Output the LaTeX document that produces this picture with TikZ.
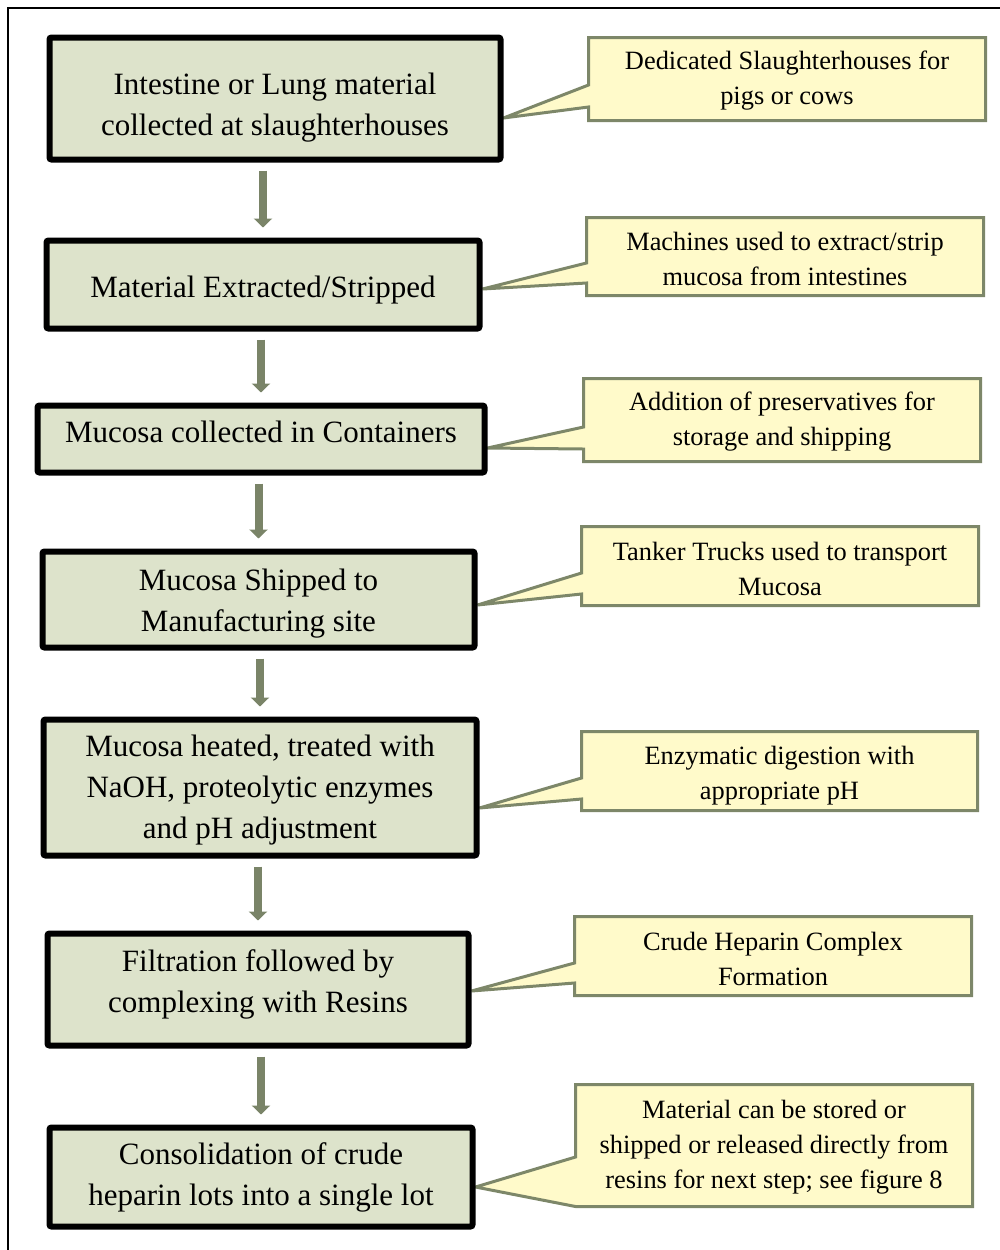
\documentclass[tikz,border=0pt]{standalone}
\usepackage{fontspec}
\setmainfont{Liberation Serif}
\usetikzlibrary{arrows.meta,backgrounds}

\definecolor{boxfill}{RGB}{221,227,203}
\definecolor{flowc}{RGB}{122,132,104}
\definecolor{notefill}{RGB}{255,250,202}
\definecolor{noteedge}{RGB}{125,135,105}

\tikzset{
  stepbox/.style={draw=black, line width=3pt, fill=boxfill, rounded corners=1pt,
    inner sep=0pt},
  steptext/.style={inner sep=0pt, align=center, font=\fontsize{15.5}{20.5}\selectfont},
  notebox/.style={inner sep=0pt, outer sep=0pt},
  notetext/.style={inner sep=0pt, align=center, font=\fontsize{13.2}{17.5}\selectfont},
  noteshape/.style={draw=noteedge, fill=notefill, line width=1.5pt, line join=miter},
  flow/.style={draw=flowc, line width=4pt, shorten <=4pt, shorten >=5pt,
    -{Triangle[length=4.5pt,width=9pt]}},
}

\begin{document}
\begin{tikzpicture}[x=0.5pt,y=-0.5pt]
\useasboundingbox (0,0) rectangle (1000,1250);
\clip (0,0) rectangle (1000,1250);

% process steps
\node[stepbox, minimum width=225.5pt, minimum height=61pt] (b1) at (275,98.5) {};
\node[stepbox, minimum width=216.5pt, minimum height=44pt] (b2) at (263,284.5) {};
\node[stepbox, minimum width=223.5pt, minimum height=33.5pt] (b3) at (261,439) {};
\node[stepbox, minimum width=216pt, minimum height=48pt] (b4) at (258.5,599.5) {};
\node[stepbox, minimum width=216.5pt, minimum height=68pt] (b5) at (260,787.5) {};
\node[stepbox, minimum width=210.5pt, minimum height=56pt] (b6) at (258,989.5) {};
\node[stepbox, minimum width=211.5pt, minimum height=49.5pt] (b7) at (261,1177) {};

\node[steptext] (b1t) at ([yshift=-4.5pt]b1.center)
  {Intestine or Lung material\\collected at slaughterhouses};
\node[steptext] (b2t) at ([yshift=-3pt]b2.center) {Material Extracted/Stripped};
\node[steptext] (b3t) at ([yshift=3.5pt]b3.center) {Mucosa collected in Containers};
\node[steptext] (b4t) at ([yshift=-2pt]b4.center) {Mucosa Shipped to\\Manufacturing site};
\node[steptext] (b5t) at ([yshift=-1.5pt]b5.center)
  {Mucosa heated, treated with\\NaOH, proteolytic enzymes\\and pH adjustment};
\node[steptext] (b6t) at ([yshift=2.5pt]b6.center)
  {Filtration followed by\\complexing with Resins};
\node[steptext] (b7t) at (b7.center)
  {Consolidation of crude\\heparin lots into a single lot};

% flow arrows
\draw[flow] (b2.north |- b1.south) -- (b2.north);
\draw[flow] (b3.north |- b2.south) -- (b3.north);
\draw[flow] (b4.north |- b3.south) -- (b4.north);
\draw[flow] (b5.north |- b4.south) -- (b5.north);
\draw[flow] (b6.north |- b5.south) -- (b6.north);
\draw[flow] (b7.north |- b6.south) -- (b7.north);

% side notes
\node[notebox, minimum width=198.5pt, minimum height=41.5pt] (c1) at (787,79) {};
\node[notebox, minimum width=198.5pt, minimum height=39pt] (c2) at (785,256.5) {};
\node[notebox, minimum width=198.5pt, minimum height=41.5pt] (c3) at (782,420) {};
\node[notebox, minimum width=198.5pt, minimum height=39.5pt] (c4) at (780,566) {};
\node[notebox, minimum width=198pt, minimum height=39.5pt] (c5) at (779.5,771) {};
\node[notebox, minimum width=198.5pt, minimum height=39.5pt] (c6) at (773,956) {};
\node[notebox, minimum width=198.5pt, minimum height=61pt] (c7) at (774,1145.5) {};

\node[notetext] (c1t) at ([yshift=-1pt]c1.center) {Dedicated Slaughterhouses for\\pigs or cows};
\node[notetext] (c2t) at ([yshift=-1.25pt]c2.center) {Machines used to extract/strip\\mucosa from intestines};
\node[notetext] (c3t) at ([yshift=-1pt]c3.center) {Addition of preservatives for\\storage and shipping};
\node[notetext] (c4t) at ([yshift=-1.5pt]c4.center) {Tanker Trucks used to transport\\Mucosa};
\node[notetext] (c5t) at ([yshift=-2.5pt]c5.center) {Enzymatic digestion with\\appropriate pH};
\node[notetext] (c6t) at ([yshift=-1.5pt]c6.center) {Crude Heparin Complex\\Formation};
\node[notetext] (c7t) at ([yshift=-0.75pt]c7.center)
  {Material can be stored or\\shipped or released directly from\\resins for next step; see figure 8};

% pointer tips on the step boxes
\coordinate (t1) at (b1.east |- 0,118);
\coordinate (t2) at (b2.east |- 0,289);
\coordinate (t3) at (b3.east |- 0,448);
\coordinate (t4) at (b4.east |- 0,605);
\coordinate (t5) at (b5.east |- 0,808);
\coordinate (t6) at (b6.east |- 0,991);
\coordinate (t7) at (b7.east |- 0,1187);

\begin{scope}[on background layer]
  \draw[line width=1pt] (8,8) rectangle (1010,1260);
  \path[noteshape] (c1.north west) -- (c1.north east) -- (c1.south east) -- (c1.south west)
    -- (c1.west |- 0,107) -- (t1) -- (c1.west |- 0,85) -- cycle;
  \path[noteshape] (c2.north west) -- (c2.north east) -- (c2.south east) -- (c2.south west)
    -- (c2.west |- 0,283) -- (t2) -- (c2.west |- 0,263) -- cycle;
  \path[noteshape] (c3.north west) -- (c3.north east) -- (c3.south east) -- (c3.south west)
    -- (c3.west |- 0,449) -- (t3) -- (c3.west |- 0,427) -- cycle;
  \path[noteshape] (c4.north west) -- (c4.north east) -- (c4.south east) -- (c4.south west)
    -- (c4.west |- 0,594) -- (t4) -- (c4.west |- 0,573) -- cycle;
  \path[noteshape] (c5.north west) -- (c5.north east) -- (c5.south east) -- (c5.south west)
    -- (c5.west |- 0,799) -- (t5) -- (c5.west |- 0,778) -- cycle;
  \path[noteshape] (c6.north west) -- (c6.north east) -- (c6.south east) -- (c6.south west)
    -- (c6.west |- 0,983) -- (t6) -- (c6.west |- 0,963) -- cycle;
  \path[noteshape] (c7.north west) -- (c7.north east) -- (c7.south east) -- (c7.south west)
    -- (t7) -- (c7.west |- 0,1157) -- cycle;
\end{scope}
\end{tikzpicture}
\end{document}
